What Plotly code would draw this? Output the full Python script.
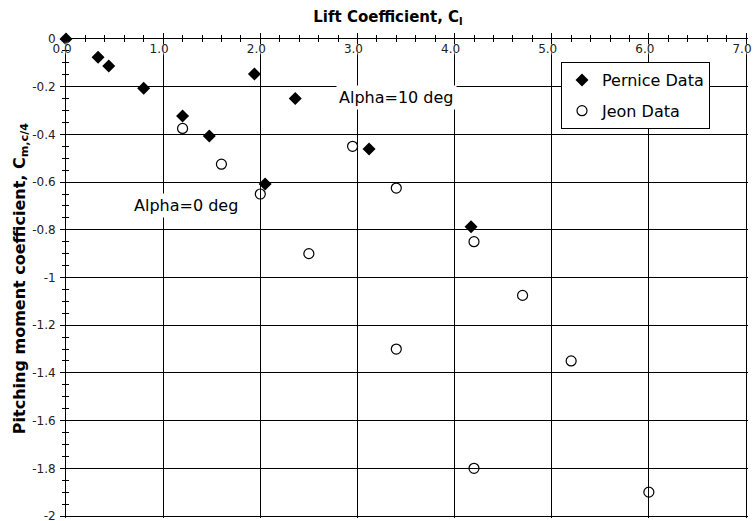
import plotly.graph_objects as go

# ---- data ----
pernice_cl = [0.0, 0.33, 0.44, 0.80, 1.20, 1.475, 1.94, 2.05, 2.36, 3.12, 4.17]
pernice_cm = [0.0, -0.077, -0.113, -0.207, -0.323, -0.407, -0.147, -0.608, -0.249, -0.461, -0.787]

jeon_cl = [1.20, 1.60, 2.00, 2.50, 2.95, 3.40, 3.40, 4.20, 4.20, 4.70, 5.20, 6.00]
jeon_cm = [-0.375, -0.525, -0.65, -0.90, -0.45, -0.625, -1.30, -0.85, -1.80, -1.075, -1.35, -1.90]

x_tick_vals = [0, 1, 2, 3, 4, 5, 6, 7]
x_tick_text = ["0.0", "1.0", "2.0", "3.0", "4.0", "5.0", "6.0", "7.0"]
y_tick_vals = [0, -0.2, -0.4, -0.6, -0.8, -1.0, -1.2, -1.4, -1.6, -1.8, -2.0]
y_tick_text = ["0", "-0.2", "-0.4", "-0.6", "-0.8", "-1", "-1.2", "-1.4", "-1.6", "-1.8", "-2"]

note_text = ["Alpha=10 deg", "Alpha=0 deg"]
note_x = [3.40, 1.235]
note_y = [-0.245, -0.696]

FONT = "DejaVu Sans"
# plot area slightly larger than the 0..7 / -2..0 frame so the edge grid lines are drawn
X_RANGE = [0, 7 * 682 / 680]
Y_RANGE = [-2 * 479 / 477, 0]

fig = go.Figure()
fig.add_trace(go.Scatter(
    x=pernice_cl, y=pernice_cm, mode="markers", name="Pernice Data",
    marker=dict(symbol="diamond", size=10, color="black", line=dict(width=0)),
    legendgroup="p", cliponaxis=False,
))
fig.add_trace(go.Scatter(
    x=jeon_cl, y=jeon_cm, mode="markers", name="Jeon Data",
    marker=dict(symbol="circle-open", size=10, color="black", line=dict(width=1.2, color="black")),
    legendgroup="j", cliponaxis=False,
))
# invisible trace to carry the overlay axes that draw the inner half of the ticks
fig.add_trace(go.Scatter(x=[None], y=[None], xaxis="x2", yaxis="y2",
                         showlegend=False, hoverinfo="skip"))

axis_common = dict(tickcolor="black", tickwidth=1, zeroline=False, automargin=False, fixedrange=True)
halo = "0 0 3px white, 0 0 3px white, 0 0 3px white, 0 0 3px white"

fig.update_layout(
    width=756, height=521,
    margin=dict(l=66, r=8, t=39, b=3),
    paper_bgcolor="white", plot_bgcolor="white",
    font=dict(family=FONT, color="black", size=12),
    title=dict(text="<b>Lift Coefficient, C<sub>l</sub></b>", font=dict(size=15, family=FONT),
               x=(388 - 66) / 682, xref="paper", xanchor="center", y=1 - 17 / 521, yref="container",
               yanchor="middle", automargin=False),
    xaxis=dict(range=X_RANGE, side="top", tickmode="array", tickvals=x_tick_vals, ticktext=x_tick_text,
               ticks="outside", ticklen=5, showline=True, linecolor="black", linewidth=1,
               showgrid=True, gridcolor="black", gridwidth=1,
               ticklabelposition="inside", ticklabeloverflow="allow", ticklabelstandoff=5,
               ticklabelshift=-4,
               tickfont=dict(size=12, color="#222", shadow=halo),
               minor=dict(tickmode="linear", tick0=0, dtick=0.2, ticks="outside", ticklen=3,
                          tickcolor="black", showgrid=False),
               **axis_common),
    yaxis=dict(range=Y_RANGE, tickmode="array", tickvals=y_tick_vals, ticktext=y_tick_text,
               ticks="outside", ticklen=5, showline=True, linecolor="black", linewidth=1,
               showgrid=True, gridcolor="black", gridwidth=1,
               tickfont=dict(size=12, color="#222"), ticklabelstandoff=2,
               ticklabeloverflow="allow",
               minor=dict(tickmode="linear", tick0=0, dtick=0.05, ticks="outside", ticklen=3,
                          tickcolor="black", showgrid=False),
               title=dict(text="<b>Pitching moment coefficient, C<sub>m,c/4</sub></b>",
                          font=dict(size=16, family=FONT), standoff=2),
               **axis_common),
    xaxis2=dict(range=X_RANGE, overlaying="x", anchor="y2", side="top",
                tickmode="array", tickvals=x_tick_vals, ticks="inside", ticklen=5,
                showticklabels=False, showgrid=False, showline=False,
                minor=dict(tickmode="linear", tick0=0, dtick=0.2, ticks="inside", ticklen=3,
                           tickcolor="black", showgrid=False),
                **axis_common),
    yaxis2=dict(range=Y_RANGE, overlaying="y", anchor="x2", side="left",
                tickmode="array", tickvals=y_tick_vals, ticks="inside", ticklen=5,
                showticklabels=False, showgrid=False, showline=False,
                minor=dict(tickmode="linear", tick0=0, dtick=0.05, ticks="inside", ticklen=3,
                           tickcolor="black", showgrid=False),
                **axis_common),
    legend=dict(x=(561 - 66) / 682, y=1 - (62 - 39) / 479, xanchor="left", yanchor="top",
                bgcolor="white", bordercolor="black", borderwidth=1,
                font=dict(size=16, family=FONT, color="black"),
                traceorder="grouped", tracegroupgap=7),
    showlegend=True,
)

for t, xv, yv in zip(note_text, note_x, note_y):
    fig.add_annotation(x=xv, y=yv, xref="x", yref="y", text=t, showarrow=False,
                       font=dict(size=16, family=FONT, color="black"),
                       bgcolor="white", borderpad=2)

fig.write_html("out.html", config={"displayModeBar": False},
               post_script="document.body.style.margin='0px';")
